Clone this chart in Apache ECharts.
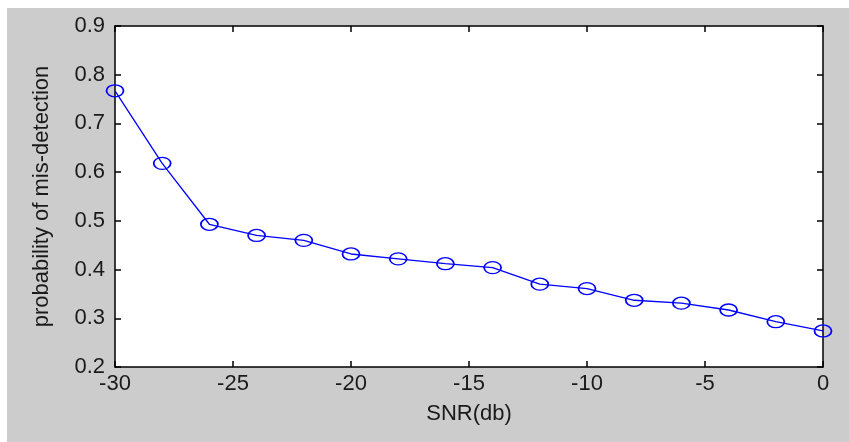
<!DOCTYPE html>
<html>
<head>
<meta charset="utf-8">
<script src="https://cdn.jsdelivr.net/npm/echarts@6/dist/echarts.min.js"></script>
<style>
html,body{margin:0;padding:0;background:#ffffff;width:849px;height:442px;overflow:hidden;}
#chart{position:absolute;left:7px;top:8px;width:842px;height:434px;}
</style>
</head>
<body>
<div id="chart"></div>
<script>
// Data
var snr = [-30, -28, -26, -24, -22, -20, -18, -16, -14, -12, -10, -8, -6, -4, -2, 0];
var pmd = [0.767, 0.618, 0.493, 0.470, 0.460, 0.432, 0.422, 0.412, 0.404, 0.370, 0.361, 0.337, 0.331, 0.317, 0.293, 0.274];
var xTickRange = [-30, 0, 5];
var yTickRange = [0.2, 0.9, 0.1];
var xTitle = 'SNR(db)';
var yTitle = 'probability of mis-detection';

var font = 'Liberation Sans, Arial, sans-serif';
var textColor = '#1a1a1a';

var chart = echarts.init(document.getElementById('chart'), null, {renderer: 'canvas'});
var points = snr.map(function (x, i) { return [x, pmd[i]]; });

var baseAxisLine = {show: true, onZero: false, lineStyle: {color: '#000', width: 1.5}};
var tick = {show: true, inside: true, length: 6, lineStyle: {color: '#000', width: 1.5}};

chart.setOption({
  backgroundColor: '#cccccc',
  animation: false,
  grid: {left: 108, right: 26, top: 18, bottom: 75, show: true, backgroundColor: '#ffffff', borderWidth: 0},
  xAxis: [{
    type: 'value', position: 'bottom',
    min: xTickRange[0], max: xTickRange[1], interval: xTickRange[2],
    axisLine: baseAxisLine, axisTick: tick, splitLine: {show: false},
    axisLabel: {color: textColor, fontFamily: font, fontSize: 22, margin: 6},
    name: xTitle, nameLocation: 'middle', nameGap: 36,
    nameTextStyle: {color: textColor, fontFamily: font, fontSize: 22}
  }, {
    type: 'value', position: 'top',
    min: xTickRange[0], max: xTickRange[1], interval: xTickRange[2],
    axisLine: baseAxisLine, axisTick: tick, splitLine: {show: false},
    axisLabel: {show: false}
  }],
  yAxis: [{
    type: 'value', position: 'left',
    min: yTickRange[0], max: yTickRange[1], interval: yTickRange[2],
    axisLine: baseAxisLine, axisTick: tick, splitLine: {show: false},
    axisLabel: {color: textColor, fontFamily: font, fontSize: 22, margin: 10,
      formatter: function (v) { return v.toFixed(1); }},
    name: yTitle, nameLocation: 'middle', nameGap: 62,
    nameTextStyle: {color: textColor, fontFamily: font, fontSize: 22}
  }, {
    type: 'value', position: 'right',
    min: yTickRange[0], max: yTickRange[1], interval: yTickRange[2],
    axisLine: baseAxisLine, axisTick: tick, splitLine: {show: false},
    axisLabel: {show: false}
  }],
  series: [{
    type: 'line',
    xAxisIndex: 0, yAxisIndex: 0,
    data: points,
    symbol: 'circle', symbolSize: [17, 12],
    showAllSymbol: true,
    lineStyle: {color: '#0000ff', width: 1.3},
    itemStyle: {color: 'rgba(0,0,0,0)', borderColor: '#0000ff', borderWidth: 1.5},
    clip: false
  }]
});
</script>
</body>
</html>
